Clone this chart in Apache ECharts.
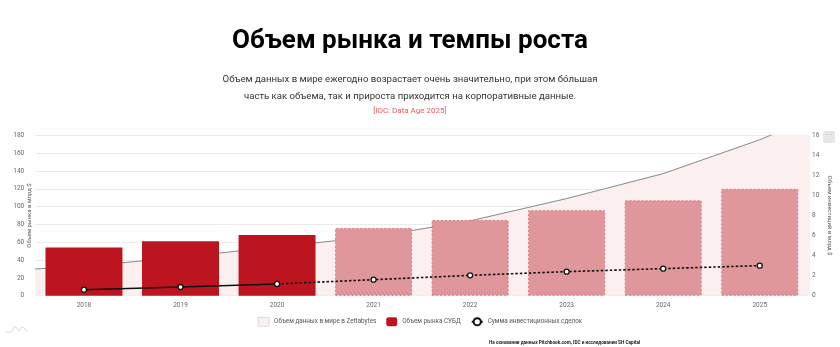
<!DOCTYPE html>
<html>
<head>
<meta charset="utf-8">
<script src="https://cdn.jsdelivr.net/npm/echarts@6/dist/echarts.min.js"></script>
<style>
html,body{margin:0;padding:0;background:#fff;}
#chart{width:840px;height:347px;}
</style>
</head>
<body>
<div id="chart"></div>
<script>
const categories = ['2018','2019','2020','2021','2022','2023','2024','2025'];
const marketValues = [54, 61, 68, 76, 85, 96, 107, 120];
const forecastFrom = 3; // index of first forecast year (2021)
const dataYears = [2017, 2018, 2019, 2020, 2021, 2022, 2023, 2024, 2025, 2026];
const dataZettabytes = [27, 33, 43, 55, 66, 84, 109, 137, 175, 220];
const investValues = [0.6, 0.87, 1.17, 1.6, 2.03, 2.4, 2.7, 3.0];
const leftTicks = [0, 180, 20];
const rightTicks = [0, 16, 2];

const DARK = '#bd1520';
const LIGHT = '#e0979b';

const chart = echarts.init(document.getElementById('chart'), null, {renderer: 'canvas'});

const barData = marketValues.map((v, i) => i < forecastFrom ? {value: v} : {
  value: v,
  itemStyle: {color: LIGHT, borderColor: '#d9767c', borderType: [2, 2], borderWidth: 1}
});
const investSolid = investValues.map((v, i) => i <= forecastFrom - 1 ? v : '-');
const investDotted = investValues.map((v, i) => i >= forecastFrom - 1 ? v : '-');
const zbData = dataYears.map((y, i) => [y, dataZettabytes[i]]);

const font = 'Roboto, "Noto Sans", sans-serif';
const CX = 410;

chart.setOption({
  animation: false,
  textStyle: {fontFamily: font},
  title: [
    {text: 'Объем рынка и темпы роста', left: 227, top: 23,
      textStyle: {fontSize: 26, fontWeight: 'bold', color: '#000', fontFamily: font}},
    {text: 'На основании данных Pitchbook.com, IDC и исследовании SH Capital', left: 484, top: 335,
      textStyle: {fontSize: 4.7, fontWeight: 'bold', color: '#222', fontFamily: font}}
  ],
  legend: {
    top: 312, left: 'center', itemWidth: 11, itemHeight: 9, itemGap: 10,
    textStyle: {fontSize: 6.3, color: '#555', fontFamily: font},
    data: [
      {name: 'Объем данных в мире в Zettabytes', icon: 'rect', itemStyle: {color: '#fbefef', borderColor: '#bbb', borderWidth: 0.5}},
      {name: 'Объем рынка СУБД', icon: 'roundRect', itemStyle: {color: DARK}},
      {name: 'Сумма инвестиционных сделок'}
    ]
  },
  grid: {left: 35.7, right: 32, top: 135.3, bottom: 51.3, containLabel: false, outerBoundsMode: 'none'},
  xAxis: [
    {type: 'category', data: categories, boundaryGap: true,
      axisLine: {show: true, lineStyle: {color: '#ddd'}}, axisTick: {show: false},
      axisLabel: {color: '#666', fontSize: 6.5, margin: 6, fontFamily: font}},
    {type: 'value', min: 2017.5, max: 2025.5, show: false}
  ],
  yAxis: [
    {type: 'value', min: leftTicks[0], max: leftTicks[1], interval: leftTicks[2],
      name: 'Объем рынка в млрд $', nameLocation: 'middle', nameGap: 3, nameRotate: 90, nameMoveOverlap: false,
      nameTextStyle: {fontSize: 6, color: '#555', fontFamily: font},
      axisLine: {show: false}, axisTick: {show: false},
      axisLabel: {color: '#666', fontSize: 6.5, margin: 11.5, fontFamily: font},
      splitLine: {lineStyle: {color: '#ebebeb'}}},
    {type: 'value', min: rightTicks[0], max: rightTicks[1], interval: rightTicks[2], position: 'right',
      name: 'Объем инвестиций в млрд $', nameLocation: 'middle', nameGap: 18, nameRotate: -90, nameMoveOverlap: false,
      nameTextStyle: {fontSize: 6, color: '#555', fontFamily: font},
      axisLine: {show: false}, axisTick: {show: false},
      axisLabel: {color: '#666', fontSize: 6.5, margin: 4, fontFamily: font},
      splitLine: {show: false}}
  ],
  series: [
    {name: 'Объем данных в мире в Zettabytes', type: 'line', xAxisIndex: 1, yAxisIndex: 0,
      data: zbData, symbol: 'none', z: 1, clip: true,
      lineStyle: {color: '#888', width: 1},
      areaStyle: {color: '#fbefef', opacity: 1},
      itemStyle: {color: '#fbefef'}},
    {name: 'Объем рынка СУБД', type: 'bar', xAxisIndex: 0, yAxisIndex: 0,
      data: barData, barWidth: 77, z: 2,
      itemStyle: {color: DARK}},
    {name: 'Сумма инвестиционных сделок', type: 'line', xAxisIndex: 0, yAxisIndex: 1,
      data: investSolid, z: 5, symbol: 'circle', symbolSize: 5,
      lineStyle: {color: '#111', width: 1.6},
      itemStyle: {color: '#fff', borderColor: '#111', borderWidth: 1.3}},
    {name: 'Сумма инвестиционных сделок', type: 'line', xAxisIndex: 0, yAxisIndex: 1,
      data: investDotted, z: 4, symbol: 'circle', symbolSize: 5,
      lineStyle: {color: '#111', width: 1.6, type: [2.5, 2]},
      itemStyle: {color: '#fff', borderColor: '#111', borderWidth: 1.3}}
  ],
  graphic: [
    {type: 'text', style: {x: CX, y: 80, text: 'Объем данных в мире ежегодно возрастает очень значительно, при этом бóльшая',
      fill: '#333', fontSize: 9.6, fontFamily: font, align: 'center', verticalAlign: 'middle'}},
    {type: 'text', style: {x: CX, y: 97, text: 'часть как объема, так и прироста приходится на корпоративные данные.',
      fill: '#333', fontSize: 9.6, fontFamily: font, align: 'center', verticalAlign: 'middle'}},
    {type: 'text', style: {x: CX, y: 111, text: '[IDC: Data Age 2025]',
      fill: '#e35d63', fontSize: 8, fontFamily: font, align: 'center', verticalAlign: 'middle'}},
    {type: 'rect', shape: {x: 823, y: 131, width: 12, height: 12, r: 2}, style: {fill: '#e6e6e6'}},
    {type: 'text', style: {x: 829, y: 135, text: '···', fill: '#e8a0a0', fontSize: 7, align: 'center', verticalAlign: 'middle'}},
    {type: 'polyline', shape: {points: [[5,332],[11,332],[13,329],[15,327],[17,328],[19,331],[21,328],[23,327],[25,329],[27,332]], smooth: 0.3},
      style: {stroke: '#ccc', lineWidth: 0.8, fill: null}}
  ]
});
</script>
</body>
</html>
